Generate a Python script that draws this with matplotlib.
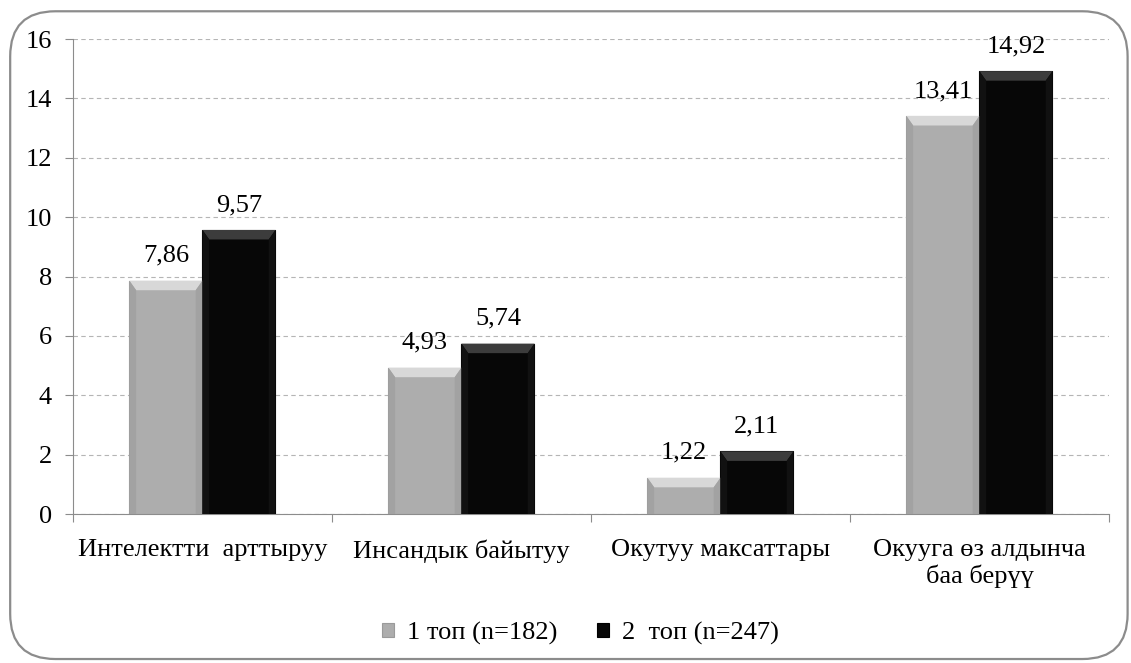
import matplotlib
matplotlib.use("Agg")
import matplotlib.pyplot as plt
from matplotlib.patches import FancyBboxPatch, Polygon
import numpy as np

plt.rcParams['font.family'] = ['Liberation Serif', 'DejaVu Serif']

categories = ["Интелектти  арттыруу", "Инсандык байытуу",
              "Окутуу максаттары", "Окууга өз алдынча\nбаа берүү"]
group1 = [7.86, 4.93, 1.22, 13.41]
group2 = [9.57, 5.74, 2.11, 14.92]
labels1 = ["7,86", "4,93", "1,22", "13,41"]
labels2 = ["9,57", "5,74", "2,11", "14,92"]
series_names = ["1 топ (n=182)", "2  топ (n=247)"]

fig = plt.figure(figsize=(11.31, 6.63), dpi=100)
ax = fig.add_axes([0.0645, 0.2247, 0.916, 0.7163])

# rounded frame around the whole chart
frame = FancyBboxPatch((0.009, 0.006), 0.988, 0.977,
                       boxstyle="round,pad=0,rounding_size=0.04",
                       transform=fig.transFigure, fill=False,
                       edgecolor="#8c8c8c", linewidth=1.6,
                       mutation_aspect=1131 / 663)
fig.patches.append(frame)

x = np.arange(len(categories))
w = 0.282

b1 = ax.bar(x - w / 2, group1, w, color="#adadad", edgecolor="#9a9a9a",
            linewidth=0.8, zorder=3, label=series_names[0])
b2 = ax.bar(x + w / 2, group2, w, color="#070707", edgecolor="#000000",
            linewidth=0.8, zorder=3, label=series_names[1])

# bevel look: lighter top facet and slightly darker sides
dx, dy = 0.026, 0.32
for bars, top_c, side_c in ((b1, "#d8d8d8", "#a2a2a2"),
                            (b2, "#3c3c3c", "#111111")):
    for p in bars:
        x0, x1 = p.get_x(), p.get_x() + p.get_width()
        h = p.get_height()
        ddy = min(dy, h / 3)
        ax.add_patch(Polygon([[x0, h], [x1, h], [x1 - dx, h - ddy], [x0 + dx, h - ddy]],
                             closed=True, facecolor=top_c, edgecolor="none", zorder=4))
        ax.add_patch(Polygon([[x0, 0], [x0 + dx, 0], [x0 + dx, h - ddy], [x0, h]],
                             closed=True, facecolor=side_c, edgecolor="none", zorder=4))
        ax.add_patch(Polygon([[x1, 0], [x1 - dx, 0], [x1 - dx, h - ddy], [x1, h]],
                             closed=True, facecolor=side_c, edgecolor="none", zorder=4))

for bars, labs in ((b1, labels1), (b2, labels2)):
    for p, t in zip(bars, labs):
        ax.annotate(t, (p.get_x() + p.get_width() / 2, p.get_height()),
                    xytext=(0, 10), textcoords="offset points",
                    ha="center", va="bottom", fontsize=19, zorder=5)

ax.set_xlim(-0.5, len(categories) - 0.5)
ax.set_ylim(0, 16)
ax.set_yticks(np.arange(0, 17, 2))
ax.yaxis.grid(True, linestyle=(0, (4, 3)), color="#b5b5b5", linewidth=0.8, zorder=0)
ax.set_axisbelow(True)

ax.set_xticks(np.arange(-0.5, len(categories), 1.0))
ax.set_xticklabels([])
ax.set_xticks(x, minor=True)
ax.set_xticklabels(categories, minor=True, fontsize=19)
ax.tick_params(axis="x", which="minor", length=0, pad=18)
ax.tick_params(axis="x", which="major", length=6, color="#8c8c8c")
ax.tick_params(axis="y", length=6, color="#8c8c8c", labelsize=19, pad=9)

for s in ("top", "right"):
    ax.spines[s].set_visible(False)
for s in ("left", "bottom"):
    ax.spines[s].set_color("#8c8c8c")

leg = fig.legend(loc="center", bbox_to_anchor=(0.513, 0.045), ncol=2, frameon=False,
                 fontsize=19, handlelength=0.45, handleheight=0.45, handletextpad=0.5,
                 columnspacing=1.5)

fig.savefig("out.png", dpi=100)
